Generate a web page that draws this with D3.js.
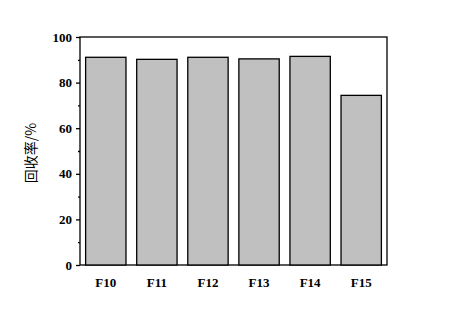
<!DOCTYPE html>
<html>
<head>
<meta charset="utf-8">
<script src="https://cdn.jsdelivr.net/npm/d3@7"></script>
<style>
  body { margin: 0; background: #fff; }
  .tick text { font-family: "Liberation Serif", serif; font-weight: bold; font-size: 13px; fill: #000; }
</style>
</head>
<body>
<svg id="chart" width="449" height="318"></svg>
<script>
// samples and recovery rate (%)
const samples = ["F10", "F11", "F12", "F13", "F14", "F15"];
const recovery = [91.1, 90.2, 91.1, 90.4, 91.5, 74.4];
const yTicks = [0, 20, 40, 60, 80, 100];

const svg = d3.select("#chart");
const plotLeft = 80, plotRight = 387, plotTop = 37, plotBottom = 265;

let x = d3.scaleBand()
    .domain(samples)
    .range([plotLeft, plotRight])
    .paddingInner(0.21)
    .paddingOuter(0.11);

let y = d3.scaleLinear().domain([0, 100]).range([plotBottom, plotTop]);

// frame
svg.append("rect")
    .attr("x", plotLeft).attr("y", plotTop)
    .attr("width", plotRight - plotLeft).attr("height", plotBottom - plotTop)
    .attr("fill", "none").attr("stroke", "#000").attr("stroke-width", 1.3);

// bars
svg.selectAll(".bar")
    .data(samples)
    .enter()
    .append("rect")
    .attr("class", "bar")
    .attr("x", d => x(d))
    .attr("width", x.bandwidth())
    .attr("y", (d, i) => y(recovery[i]))
    .attr("height", (d, i) => y(0) - y(recovery[i]))
    .attr("fill", "#c0c0c0")
    .attr("stroke", "#000")
    .attr("stroke-width", 1.3);

// y axis, major ticks
let yAxis = svg.append("g")
    .attr("transform", "translate(" + plotLeft + ",0)")
    .call(d3.axisLeft(y).tickValues(yTicks).tickSize(4).tickPadding(4));
yAxis.select(".domain").remove();
yAxis.selectAll("line").attr("stroke-width", 1.3);

// minor ticks
svg.append("g")
    .attr("transform", "translate(" + plotLeft + ",0)")
    .call(d3.axisLeft(y).tickValues([10, 30, 50, 70, 90]).tickSize(2).tickFormat(""))
    .call(g => g.select(".domain").remove())
    .selectAll("line").attr("stroke-width", 1.3);

// x axis labels
let xAxis = svg.append("g")
    .attr("transform", "translate(0," + plotBottom + ")")
    .call(d3.axisBottom(x).tickSize(0).tickPadding(13));
xAxis.select(".domain").remove();

// y label
svg.append("text")
    .attr("transform", "translate(36,153) rotate(-90)")
    .attr("text-anchor", "middle")
    .style("font-family", "'Noto Sans CJK SC', sans-serif")
    .style("font-size", "14px")
    .text("回收率/%");
</script>
</body>
</html>
